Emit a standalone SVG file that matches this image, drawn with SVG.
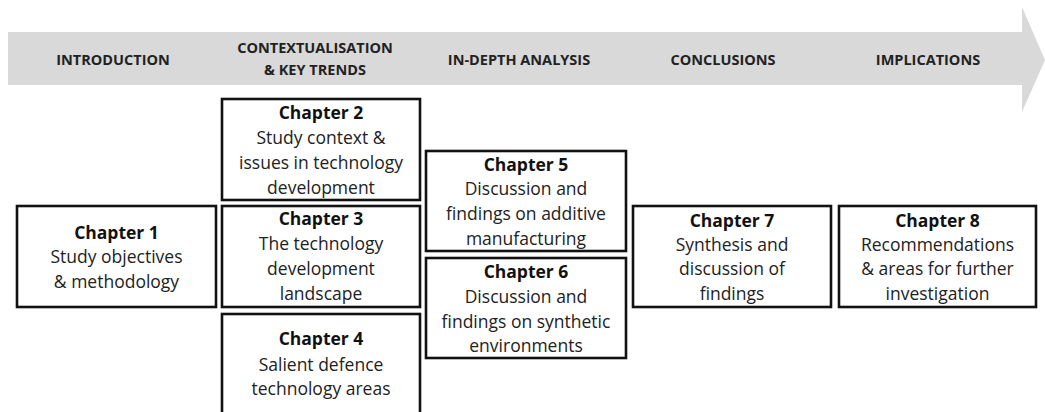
<svg xmlns="http://www.w3.org/2000/svg" width="1045" height="412" viewBox="0 0 1045 412">
  <style>
    .band { fill: #d9d9d9; }
    .stage { font-family: "Open Sans", "Liberation Sans", sans-serif; font-weight: bold; font-size: 14.5px; fill: #222; text-anchor: middle; }
    .box { fill: #ffffff; stroke: #111; stroke-width: 2.6; }
    .title { font-family: "Open Sans", "Liberation Sans", sans-serif; font-weight: bold; font-size: 17.5px; fill: #111; text-anchor: middle; }
    .body { font-family: "Open Sans", "Liberation Sans", sans-serif; font-size: 17.5px; fill: #222; text-anchor: middle; }
  </style>

  <!-- timeline arrow with stage headings -->
  <g id="timeline">
    <polygon class="band" points="8,32 1022,32 1022,7 1045,60 1022,112 1022,85 8,85"/>
    <text class="stage" x="113" y="65">INTRODUCTION</text>
    <text class="stage" x="315" y="53">CONTEXTUALISATION</text>
    <text class="stage" x="315" y="75">&amp; KEY TRENDS</text>
    <text class="stage" x="519" y="65">IN-DEPTH ANALYSIS</text>
    <text class="stage" x="723" y="65">CONCLUSIONS</text>
    <text class="stage" x="928" y="65">IMPLICATIONS</text>
  </g>

  <g id="connectors"></g>

  <g id="chapter1">
    <rect class="box" x="17" y="206" width="199" height="101"/>
    <text class="title" x="116.5" y="239">Chapter 1</text>
    <text class="body" x="116.5" y="263">Study objectives</text>
    <text class="body" x="116.5" y="288">&amp; methodology</text>
  </g>

  <g id="chapter2">
    <rect class="box" x="222" y="99" width="198" height="101"/>
    <text class="title" x="321" y="119">Chapter 2</text>
    <text class="body" x="321" y="144">Study context &amp;</text>
    <text class="body" x="321" y="169">issues in technology</text>
    <text class="body" x="321" y="194">development</text>
  </g>

  <g id="chapter3">
    <rect class="box" x="222" y="206" width="198" height="101"/>
    <text class="title" x="321" y="225">Chapter 3</text>
    <text class="body" x="321" y="250">The technology</text>
    <text class="body" x="321" y="275">development</text>
    <text class="body" x="321" y="300">landscape</text>
  </g>

  <g id="chapter4">
    <rect class="box" x="222" y="314" width="198" height="110"/>
    <text class="title" x="321" y="345">Chapter 4</text>
    <text class="body" x="321" y="371">Salient defence</text>
    <text class="body" x="321" y="395">technology areas</text>
  </g>

  <g id="chapter5">
    <rect class="box" x="426" y="151" width="200" height="100"/>
    <text class="title" x="526" y="171">Chapter 5</text>
    <text class="body" x="526" y="195">Discussion and</text>
    <text class="body" x="526" y="220">findings on additive</text>
    <text class="body" x="526" y="245">manufacturing</text>
  </g>

  <g id="chapter6">
    <rect class="box" x="426" y="258" width="200" height="100"/>
    <text class="title" x="526" y="278">Chapter 6</text>
    <text class="body" x="526" y="303">Discussion and</text>
    <text class="body" x="526" y="328">findings on synthetic</text>
    <text class="body" x="526" y="352">environments</text>
  </g>

  <g id="chapter7">
    <rect class="box" x="633" y="206" width="198" height="101"/>
    <text class="title" x="732" y="227">Chapter 7</text>
    <text class="body" x="732" y="251">Synthesis and</text>
    <text class="body" x="732" y="275">discussion of</text>
    <text class="body" x="732" y="300">findings</text>
  </g>

  <g id="chapter8">
    <rect class="box" x="839" y="206" width="197" height="101"/>
    <text class="title" x="937.5" y="227">Chapter 8</text>
    <text class="body" x="937.5" y="251">Recommendations</text>
    <text class="body" x="937.5" y="275">&amp; areas for further</text>
    <text class="body" x="937.5" y="300">investigation</text>
  </g>
</svg>
